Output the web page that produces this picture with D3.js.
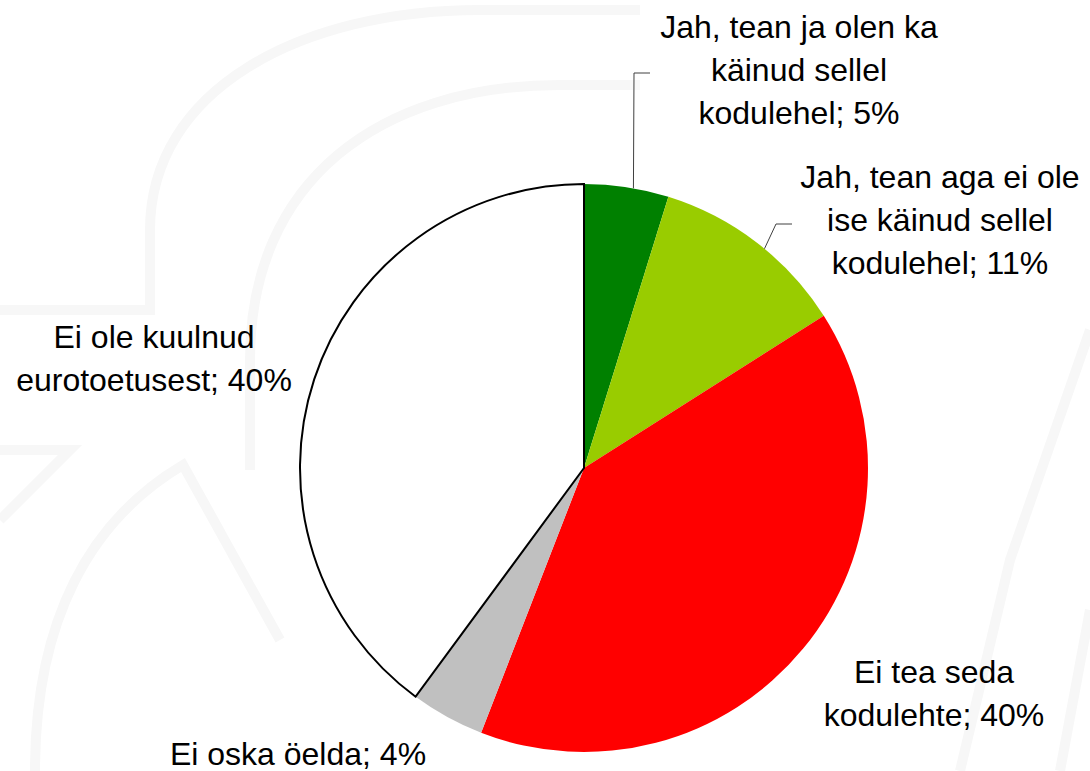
<!DOCTYPE html>
<html>
<head>
<meta charset="utf-8">
<script src="https://cdn.jsdelivr.net/npm/d3@7"></script>
<style>
  html, body { margin: 0; padding: 0; background: #fff; }
  svg { display: block; }
  .lbl { font-family: "Liberation Sans", Arial, sans-serif; font-size: 32px; fill: #000; }
</style>
</head>
<body>
<svg id="chart" width="1090" height="771"></svg>
<script>
// answers, clockwise from 12 o'clock
let categories = [
    'Jah, tean ja olen ka käinud sellel kodulehel',
    'Jah, tean aga ei ole ise käinud sellel kodulehel',
    'Ei tea seda kodulehte',
    'Ei oska öelda',
    'Ei ole kuulnud eurotoetusest'
]
let shares = [4.8, 11.2, 39.9, 4.2, 39.9]
let colors = ['#008000', '#99cc00', '#ff0000', '#c0c0c0', '#ffffff']
// label text split in lines as in the original
let labelLines = [
    ['Jah, tean ja olen ka', 'käinud sellel', 'kodulehel; 5%'],
    ['Jah, tean aga ei ole', 'ise käinud sellel', 'kodulehel; 11%'],
    ['Ei tea seda', 'kodulehte; 40%'],
    ['Ei oska öelda; 4%'],
    ['Ei ole kuulnud', 'eurotoetusest; 40%']
]

let svg = d3.select('#chart'),
    width = +svg.attr('width'),
    height = +svg.attr('height')

let cx = 584, cy = 468, radius = 284

// faint watermark in the background
let wm = svg.append('g')
    .attr('fill', 'none')
    .attr('stroke', '#f7f7f7')
    .attr('stroke-width', 10)
wm.append('path').attr('d', 'M0,310 L150,310 L150,230 C150,90 300,10 480,10 L640,10')
wm.append('path').attr('d', 'M250,470 L250,360 C250,180 380,85 560,85 L640,85')
wm.append('path').attr('d', 'M0,450 L70,450 L0,520')
wm.append('path').attr('d', 'M35,771 C35,620 90,520 183,465 L280,640')
wm.append('path').attr('d', 'M1090,330 L1010,560 L960,771')
wm.append('path').attr('d', 'M1090,610 L1060,771')

let pie = d3.pie().sort(null).value(function (d) { return d })
let arcs = pie(shares)

let arc = d3.arc().innerRadius(0).outerRadius(radius)

let g = svg.append('g').attr('transform', 'translate(' + cx + ',' + cy + ')')

// coloured slices first, the white one with its outline on top
g.selectAll('.slice')
    .data(arcs.filter(function (d, i) { return colors[i] !== '#ffffff' }))
    .enter().append('path')
    .attr('class', 'slice')
    .attr('d', arc)
    .attr('fill', function (d) { return colors[d.index] })

g.selectAll('.slice-white')
    .data(arcs.filter(function (d, i) { return colors[i] === '#ffffff' }))
    .enter().append('path')
    .attr('class', 'slice-white')
    .attr('d', arc)
    .attr('fill', '#ffffff')
    .attr('stroke', '#000')
    .attr('stroke-width', 2)
    .attr('stroke-linejoin', 'miter')

// label placement (centre x, first baseline)
let labelPos = [
    { x: 799, y: 38 },
    { x: 940, y: 188 },
    { x: 934, y: 683 },
    { x: 298, y: 765 },
    { x: 154, y: 348 }
]
let lineGap = 43

labelLines.forEach(function (lines, i) {
    let t = svg.append('text')
        .attr('class', 'lbl')
        .attr('text-anchor', 'middle')
    lines.forEach(function (line, j) {
        t.append('tspan')
            .attr('x', labelPos[i].x)
            .attr('y', labelPos[i].y + j * lineGap)
            .text(line)
    })
})

// leader lines for the two small slices
function edgePoint(d, frac) {
    let a = d.startAngle + (d.endAngle - d.startAngle) * frac
    return [cx + radius * Math.sin(a), cy - radius * Math.cos(a)]
}
let p0 = edgePoint(arcs[0], 0.58)
let p1 = edgePoint(arcs[1], 0.55)
let leaders = [
    [[650, 73], [634, 73], p0],
    [[792, 224], [776, 224], p1]
]
svg.selectAll('.leader')
    .data(leaders)
    .enter().append('path')
    .attr('class', 'leader')
    .attr('d', d3.line())
    .attr('fill', 'none')
    .attr('stroke', '#404040')
    .attr('stroke-width', 1)
</script>
</body>
</html>
